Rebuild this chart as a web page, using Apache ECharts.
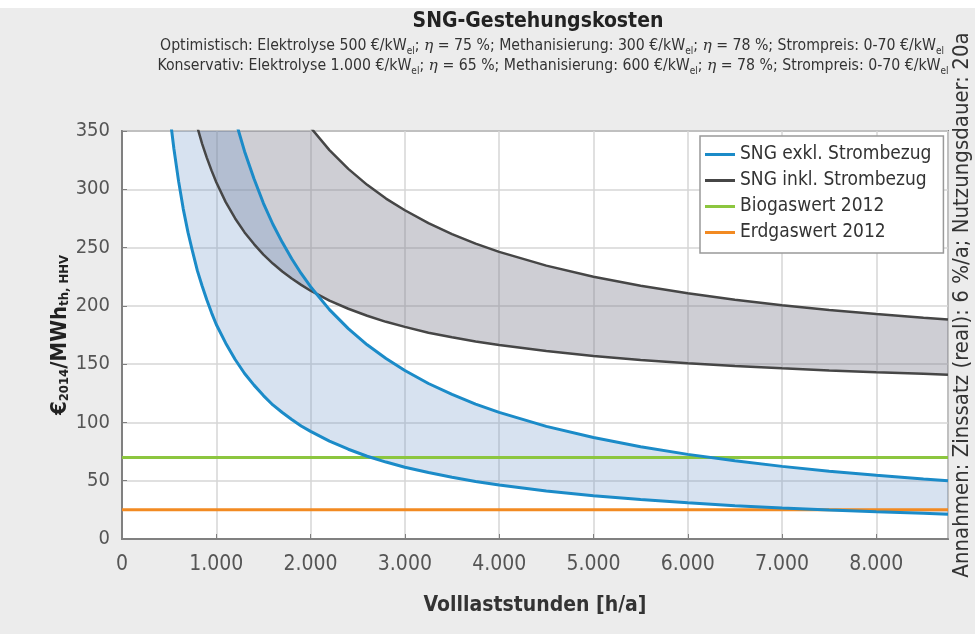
<!DOCTYPE html>
<html>
<head>
<meta charset="utf-8">
<script src="https://cdn.jsdelivr.net/npm/echarts@6/dist/echarts.min.js"></script>
<style>
html,body{margin:0;padding:0;background:#ececec;}
#chart{width:975px;height:634px;}
</style>
</head>
<body>
<div id="chart"></div>
<script>
// Volllaststunden [h/a]
const hours = [500, 550, 600, 650, 700, 750, 800, 850, 900, 950, 1000, 1100, 1200, 1300, 1400, 1500, 1600, 1700, 1800, 1900, 2000, 2200, 2400, 2600, 2800, 3000, 3250, 3500, 3750, 4000, 4500, 5000, 5500, 6000, 6500, 7000, 7500, 8000, 8500, 8760];
// SNG exkl. Strombezug – optimistisch (untere blaue Kurve)
const exklOpt  = [368, 335, 307, 283, 263, 246, 230, 217, 205, 194, 184, 168, 154, 142, 132, 123, 115, 108.5, 102.5, 97, 92.3, 84, 77, 71, 66, 61.6, 57, 53, 49.4, 46.3, 41.2, 37.1, 33.8, 31, 28.6, 26.6, 24.8, 23.3, 22, 21.3];
// SNG exkl. Strombezug – konservativ (obere blaue Kurve)
const exklKons = [863, 785, 720, 664, 617, 576, 540, 508, 480, 455, 432, 393, 360, 332.5, 309, 288, 270, 254.5, 240.4, 227.8, 216.4, 196.8, 180.5, 166.6, 154.8, 144.5, 133.4, 124, 115.7, 108.6, 96.6, 87, 79.1, 72.6, 67.1, 62.3, 58.2, 54.6, 51.5, 50];
// SNG inkl. Strombezug – optimistisch (untere graue Kurve)
const inklOpt  = [493, 459, 431, 407, 386, 368.5, 353, 339, 327, 316, 306, 289, 275, 263, 253, 244, 236.3, 229.5, 223.4, 218, 213, 204.5, 197.5, 191.5, 186.3, 182, 177, 173, 169.5, 166.4, 161.2, 157, 153.6, 150.8, 148.4, 146.4, 144.6, 143, 141.7, 141];
// SNG inkl. Strombezug – konservativ (obere graue Kurve)
const inklKons = [993, 916, 851, 796, 750, 709, 673, 642, 614, 589, 566.5, 528, 495, 468, 444.5, 424, 406, 391, 377, 364.3, 353, 333.6, 317.5, 303.8, 292, 282, 271, 261.6, 253.4, 246.3, 234.5, 225, 217.2, 210.8, 205.3, 200.6, 196.5, 193, 189.8, 188.3];
// Referenzwerte
const biogasHours = [0, 8760];
const biogasWert = [70, 70];
const erdgasHours = [0, 8760];
const erdgasWert = [25, 25];
// Achsen
const xTicks = [0, 1000, 2000, 3000, 4000, 5000, 6000, 7000, 8000];
const xTickLabels = ['0', '1.000', '2.000', '3.000', '4.000', '5.000', '6.000', '7.000', '8.000'];
const yTicks = [0, 50, 100, 150, 200, 250, 300, 350];

const FONT = "'Liberation Sans Narrow', 'DejaVu Sans Condensed', 'Roboto Condensed', sans-serif";
const pairs = (xs, ys) => xs.map((x, i) => [x, ys[i]]);

const BLUE = '#1b8bc8', GRAY = '#464646', GREEN = '#8cc63f', ORANGE = '#f28a22';

const chart = echarts.init(document.getElementById('chart'), null, {renderer: 'canvas'});

const lineBase = {type: 'line', showSymbol: false, symbol: 'none', smooth: false, clip: true};

function bandSeries(name, lo, hi, fill) {
  return {
    type: 'custom', name: name, clip: true, silent: true, z: 1,
    data: [[hours[0], lo[0]]],
    renderItem: function (params, api) {
      const pts = [];
      for (let i = 0; i < hours.length; i++) pts.push(api.coord([hours[i], lo[i]]));
      for (let i = hours.length - 1; i >= 0; i--) pts.push(api.coord([hours[i], hi[i]]));
      return {type: 'polygon', shape: {points: pts}, style: {fill: fill, stroke: null}};
    }
  };
}

const subStyle = {fontSize: 10, verticalAlign: 'bottom', lineHeight: 9, fontFamily: FONT, color: '#333'};
const itStyle = {fontSize: 15.5, fontStyle: 'italic', fontFamily: "'DejaVu Serif', serif", color: '#333'};
const subTitleStyle = {fontFamily: FONT, fontSize: 15.7, fontWeight: 'normal', color: '#333', lineHeight: 20, rich: {s: subStyle, i: itStyle}};

chart.setOption({
  backgroundColor: '#ececec',
  animation: false,
  title: [{
    left: 533, top: 6, textAlign: 'center',
    text: 'SNG-Gestehungskosten',
    textStyle: {fontFamily: FONT, fontWeight: 'bold', fontSize: 21, color: '#222'}
  }, {
    left: 547, top: 31, textAlign: 'center',
    text: 'Optimistisch: Elektrolyse 500 €/kW{s|el}; {i|η} = 75 %; Methanisierung: 300 €/kW{s|el}; {i|η} = 78 %; Strompreis: 0-70 €/kW{s|el}',
    textStyle: subTitleStyle
  }, {
    left: 548, top: 51, textAlign: 'center',
    text: 'Konservativ: Elektrolyse 1.000 €/kW{s|el}; {i|η} = 65 %; Methanisierung: 600 €/kW{s|el}; {i|η} = 78 %; Strompreis: 0-70 €/kW{s|el}',
    textStyle: subTitleStyle
  }],
  grid: {left: 122, top: 131, width: 826, height: 408, show: true, backgroundColor: '#fff', borderColor: '#808080', borderWidth: 2},
  legend: {
    orient: 'vertical', left: 700, top: 136,
    data: ['SNG exkl. Strombezug', 'SNG inkl. Strombezug', 'Biogaswert 2012', 'Erdgaswert 2012'],
    icon: 'rect', itemWidth: 30, itemHeight: 3, itemGap: 7,
    backgroundColor: '#fff', borderColor: '#999', borderWidth: 1.5,
    padding: [9, 12, 11, 5],
    textStyle: {fontFamily: FONT, fontSize: 19, color: '#333', lineHeight: 19},
    selectedMode: false
  },
  xAxis: {
    type: 'value', min: 0, max: 8760, interval: 1000,
    axisLine: {show: true, lineStyle: {color: '#808080', width: 2}},
    axisTick: {show: true, inside: true, length: 5, lineStyle: {color: '#808080'}},
    splitLine: {show: true, lineStyle: {color: '#d6d6d6', width: 1.5}},
    axisLabel: {
      showMaxLabel: false, margin: 15, fontFamily: FONT, fontSize: 21, color: '#555',
      formatter: v => { const k = xTicks.indexOf(v); return k >= 0 ? xTickLabels[k] : ''; }
    },
    name: 'Volllaststunden [h/a]', nameLocation: 'middle', nameGap: 56,
    nameTextStyle: {fontFamily: FONT, fontSize: 21, color: '#333', fontWeight: 'bold'}
  },
  yAxis: {
    type: 'value', min: yTicks[0], max: yTicks[yTicks.length - 1], interval: 50,
    axisLine: {show: true, lineStyle: {color: '#808080', width: 2}},
    axisTick: {show: true, inside: true, length: 5, lineStyle: {color: '#808080'}},
    splitLine: {show: true, lineStyle: {color: '#d6d6d6', width: 1.5}},
    axisLabel: {margin: 12, fontFamily: FONT, fontSize: 20, color: '#555'},
    name: '€{s|2014}/MWh{s|th, HHV}', nameLocation: 'middle', nameRotate: 90, nameGap: 51,
    nameMoveOverlap: false,
    nameTextStyle: {fontFamily: FONT, fontSize: 22, color: '#222', fontWeight: 'bold',
      rich: {s: {fontFamily: FONT, fontSize: 13, fontWeight: 'bold', color: '#222', verticalAlign: 'bottom', lineHeight: 12}}}
  },
  graphic: [
    {type: 'rect', left: 0, top: 0, z: -1, shape: {width: 975, height: 8}, style: {fill: '#ffffff'}},
    {type: 'text', x: 962, y: 305, rotation: Math.PI / 2, z: 10,
     style: {text: 'Annahmen: Zinssatz (real): 6 %/a; Nutzungsdauer: 20a', font: "22px " + FONT,
             fill: '#333', align: 'center', verticalAlign: 'middle'}}
  ],
  series: [
    bandSeries('inklBand', inklOpt, inklKons, 'rgba(120,120,135,0.36)'),
    bandSeries('exklBand', exklOpt, exklKons, 'rgba(110,150,200,0.28)'),
    Object.assign({}, lineBase, {name: 'Biogaswert 2012', color: GREEN, data: pairs(biogasHours, biogasWert), lineStyle: {color: GREEN, width: 3}, z: 3}),
    Object.assign({}, lineBase, {name: 'Erdgaswert 2012', color: ORANGE, data: pairs(erdgasHours, erdgasWert), lineStyle: {color: ORANGE, width: 3}, z: 3}),
    Object.assign({}, lineBase, {name: 'SNG inkl. Strombezug', color: GRAY, data: pairs(hours, inklOpt), lineStyle: {color: GRAY, width: 2.5}, z: 4}),
    Object.assign({}, lineBase, {name: 'SNG inkl. Strombezug', color: GRAY, data: pairs(hours, inklKons), lineStyle: {color: GRAY, width: 2.5}, z: 4}),
    Object.assign({}, lineBase, {name: 'SNG exkl. Strombezug', color: BLUE, data: pairs(hours, exklOpt), lineStyle: {color: BLUE, width: 3}, z: 5}),
    Object.assign({}, lineBase, {name: 'SNG exkl. Strombezug', color: BLUE, data: pairs(hours, exklKons), lineStyle: {color: BLUE, width: 3}, z: 5})
  ]
});
</script>
</body>
</html>
